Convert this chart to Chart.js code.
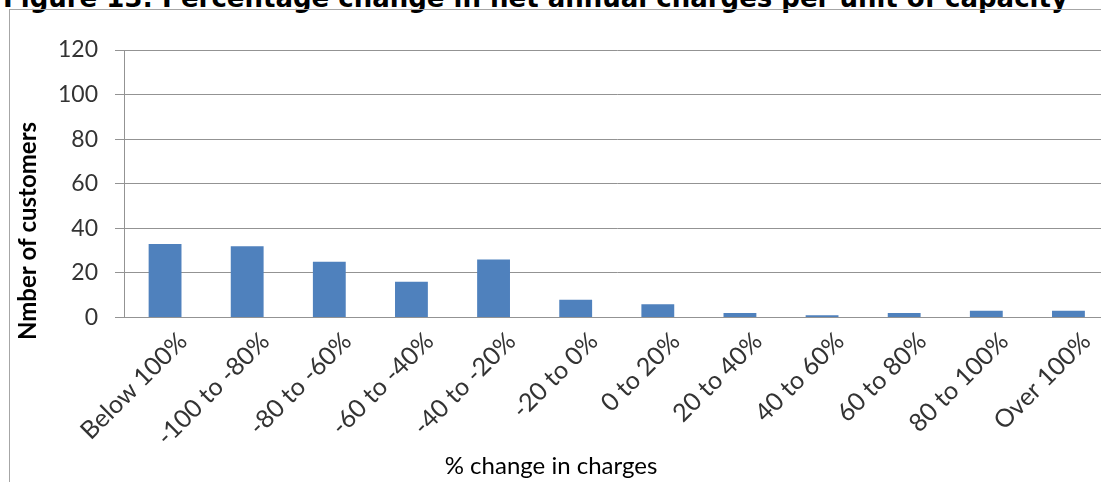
<!DOCTYPE html>
<html lang="en">
<head>
<meta charset="UTF-8">
<title>Figure 13: Percentage change in net annual charges per unit of capacity</title>
<script src="https://cdn.jsdelivr.net/npm/chart.js@4.4.1/dist/chart.umd.min.js"></script>
<style>
    html, body { margin: 0; padding: 0; background: #fff; overflow: hidden; width: 1101px; height: 482px; }
    #figTitle {
        position: absolute; left: 3px; top: -15px;
        font: bold 26px "DejaVu Sans", Verdana, sans-serif; line-height: 26px;
        white-space: nowrap; color: #000;
    }
    #frame {
        position: absolute; left: 9px; top: 9px; width: 1200px; height: 600px;
        border: 1px solid #a6a6a6; box-sizing: border-box;
    }
    #wrap { position: absolute; left: 0; top: 0; width: 1130px; height: 482px; }
</style>
</head>
<body>
<div id="figTitle">Figure 13: Percentage change in net annual charges per unit of capacity</div>
<div id="frame"></div>
<div id="wrap"><canvas id="chart" width="1130" height="482"></canvas></div>

<script>
// bands of % change and number of customers in each
const categories = ['Below 100%', '-100 to -80%', '-80 to -60%', '-60 to -40%', '-40 to -20%', '-20 to 0%',
                    '0 to 20%', '20 to 40%', '40 to 60%', '60 to 80%', '80 to 100%', 'Over 100%'];
const customers = [33, 32, 25, 16, 26, 8, 6, 2, 1, 2, 3, 3];
const yTicks = [0, 20, 40, 60, 80, 100, 120];

const xTitle = '% change in charges';
const yTitle = 'Nmber of customers';

const gridGrey = '#939393';
const yTickFont = { family: 'Lato', size: 23 };
const xTickFont = { family: 'Lato', size: 25 };

// axis titles sit where the spreadsheet put them, not centred on the plot
const axisTitles = {
    id: 'axisTitles',
    afterDraw(chart) {
        const ctx = chart.ctx;
        ctx.save();
        ctx.fillStyle = '#000';
        ctx.textAlign = 'center';
        ctx.textBaseline = 'middle';
        ctx.font = '24px Lato';
        ctx.fillText(xTitle, 551, 466);
        ctx.translate(28, 231);
        ctx.rotate(-Math.PI / 2);
        ctx.font = 'bold 24px Lato';
        ctx.fillText(yTitle, 0, 0);
        ctx.restore();
    }
};

new Chart(document.getElementById('chart'), {
    type: 'bar',
    data: {
        labels: categories,
        datasets: [{
            data: customers,
            backgroundColor: '#4F81BD',
            barPercentage: 0.8,
            categoryPercentage: 0.5
        }]
    },
    options: {
        responsive: false,
        animation: false,
        layout: { padding: { left: 0, top: 50, right: 20.5, bottom: 0 } },
        plugins: { legend: { display: false }, tooltip: { enabled: false } },
        scales: {
            x: {
                grid: { display: false },
                border: { display: true, color: gridGrey },
                ticks: { minRotation: 45, maxRotation: 45, font: xTickFont, color: '#333', padding: 1, labelOffset: 18 },
                afterFit(scale) { scale.height = 164.5; }
            },
            y: {
                min: 0,
                max: 120,
                afterBuildTicks(scale) { scale.ticks = yTicks.map(v => ({ value: v })); },
                grid: { color: gridGrey, tickLength: 9 },
                border: { display: true, color: gridGrey },
                ticks: { font: yTickFont, color: '#333', padding: 17 },
                afterFit(scale) { scale.width = 124; }
            }
        }
    },
    plugins: [axisTitles]
});
</script>
</body>
</html>
